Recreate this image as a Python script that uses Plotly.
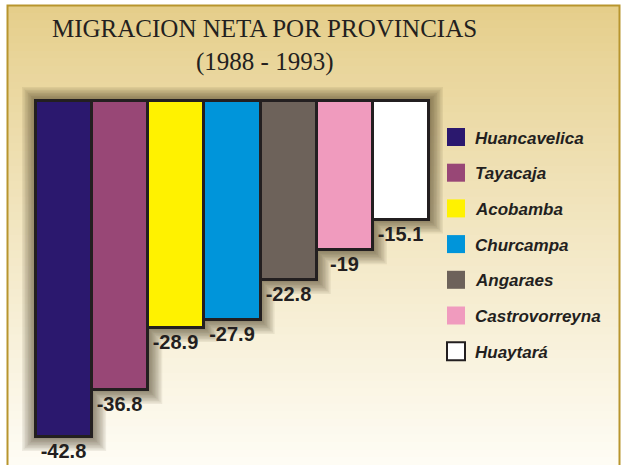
import plotly.graph_objects as go

# ---- data ----
provincias = ["Huancavelica", "Tayacaja", "Acobamba", "Churcampa", "Angaraes", "Castrovorreyna", "Huaytará"]
migracion = [-42.8, -36.8, -28.9, -27.9, -22.8, -19, -15.1]
colores = ["#2b186e", "#984776", "#fff200", "#0095da", "#6d625a", "#f09bbe", "#ffffff"]
titulo = "MIGRACION NETA POR PROVINCIAS"
subtitulo = "(1988 - 1993)"

# ---- layout geometry (pixels) ----
W, H = 621, 465
L, R_EDGE = 20, 445          # plot area left/right px
T = 85                       # plot area top px
Y0_PX = 101                  # pixel of value 0
BAR_W = (429 - 36) / 7       # px per category
KY = 336 / 42.8              # px per unit
pw = R_EDGE - L
ph = H - T

ymax = (Y0_PX - T) / KY
ymin = -(H - Y0_PX) / KY
xpad = (36 - L) / BAR_W
xmin = -0.5 - xpad
xmax = len(provincias) - 0.5 + (R_EDGE - 429) / BAR_W

def px_x(x):
    return (x - L) / pw

def px_y(y):
    return 1 - (y - T) / ph

shapes = []
# background gradient (tan -> cream)
n = 60
top, bot = 5, H
c0 = (229, 206, 138)
c1 = (254, 252, 244)
for i in range(n):
    t = i / (n - 1)
    c = tuple(int(round(c0[j] + (c1[j] - c0[j]) * t ** 0.9)) for j in range(3))
    y0 = top + (bot - top) * i / n
    y1 = top + (bot - top) * (i + 1) / n + 1
    shapes.append(dict(type="rect", xref="paper", yref="paper", layer="below",
                       x0=px_x(7), x1=px_x(620), y0=px_y(y0), y1=px_y(min(y1, bot)),
                       fillcolor="rgb(%d,%d,%d)" % c, line=dict(width=0)))

# soft shadow around the stepped bar block
nb = len(migracion)
for k in range(9):
    pad = 2 + k * 1.5
    dx = pad / BAR_W
    dy = pad / KY
    pts = [(-0.5 - dx, dy), (nb - 0.5 + dx, dy)]
    for i in range(nb - 1, -1, -1):
        pts.append((i + 0.5 + dx, migracion[i] - dy))
        pts.append((i - 0.5 + (dx if i > 0 else -dx), migracion[i] - dy))
    path = "M " + " L ".join("%f,%f" % p for p in pts) + " Z"
    shapes.append(dict(type="path", xref="x", yref="y", layer="below", path=path,
                       fillcolor="rgba(60,48,25,0.08)", line=dict(width=0)))

# frame
shapes.append(dict(type="rect", xref="paper", yref="paper", layer="above",
                   x0=px_x(7.5), x1=px_x(619.5), y0=px_y(5.5), y1=px_y(H + 5),
                   fillcolor="rgba(0,0,0,0)", line=dict(color="#b8952e", width=2)))

annotations = [
    dict(text=titulo, xref="paper", yref="paper", x=px_x(264), y=px_y(44),
         xanchor="center", yanchor="bottom", showarrow=False,
         font=dict(family="Liberation Serif, Times New Roman, serif", size=25, color="#231f20")),
    dict(text=subtitulo, xref="paper", yref="paper", x=px_x(264), y=px_y(78),
         xanchor="center", yanchor="bottom", showarrow=False,
         font=dict(family="Liberation Serif, Times New Roman, serif", size=25, color="#231f20")),
]

# legend (manual, larger swatches)
leg_y0 = 137
leg_dy = 35.7
for i, (name, col) in enumerate(zip(provincias, colores)):
    cy = leg_y0 + i * leg_dy
    shapes.append(dict(type="rect", xref="paper", yref="paper", layer="above",
                       x0=px_x(447), x1=px_x(465), y0=px_y(cy - 9), y1=px_y(cy + 9),
                       fillcolor=col,
                       line=dict(color="#231f20", width=2 if col == "#ffffff" else 0)))
    annotations.append(dict(text="<b><i>%s</i></b>" % name, xref="paper", yref="paper",
                            x=px_x(473), y=px_y(cy + 1), xanchor="left", yanchor="middle",
                            showarrow=False,
                            font=dict(family="Liberation Sans, Arial, sans-serif", size=17, color="#231f20")))

fig = go.Figure(go.Bar(
    x=provincias, y=migracion, width=1,
    marker=dict(color=colores, line=dict(color="#231f20", width=3)),
    text=[("%g" % v) for v in migracion], textposition="outside",
    textfont=dict(family="Liberation Sans, Arial, sans-serif", size=20, color="#231f20"),
    texttemplate="<b>%{text}</b>", cliponaxis=False, showlegend=False,
    hoverinfo="skip",
))

fig.update_layout(
    width=W, height=H,
    margin=dict(l=L, r=W - R_EDGE, t=T, b=0, pad=0),
    paper_bgcolor="#ffffff", plot_bgcolor="rgba(0,0,0,0)",
    bargap=0,
    xaxis=dict(range=[xmin, xmax], visible=False, fixedrange=True),
    yaxis=dict(range=[ymin, ymax], visible=False, fixedrange=True),
    shapes=shapes, annotations=annotations,
    showlegend=False,
)

fig.write_html("out.html", config={"displayModeBar": False},
               post_script="document.body.style.margin='0';document.body.style.padding='0';document.body.style.overflow='hidden';")
